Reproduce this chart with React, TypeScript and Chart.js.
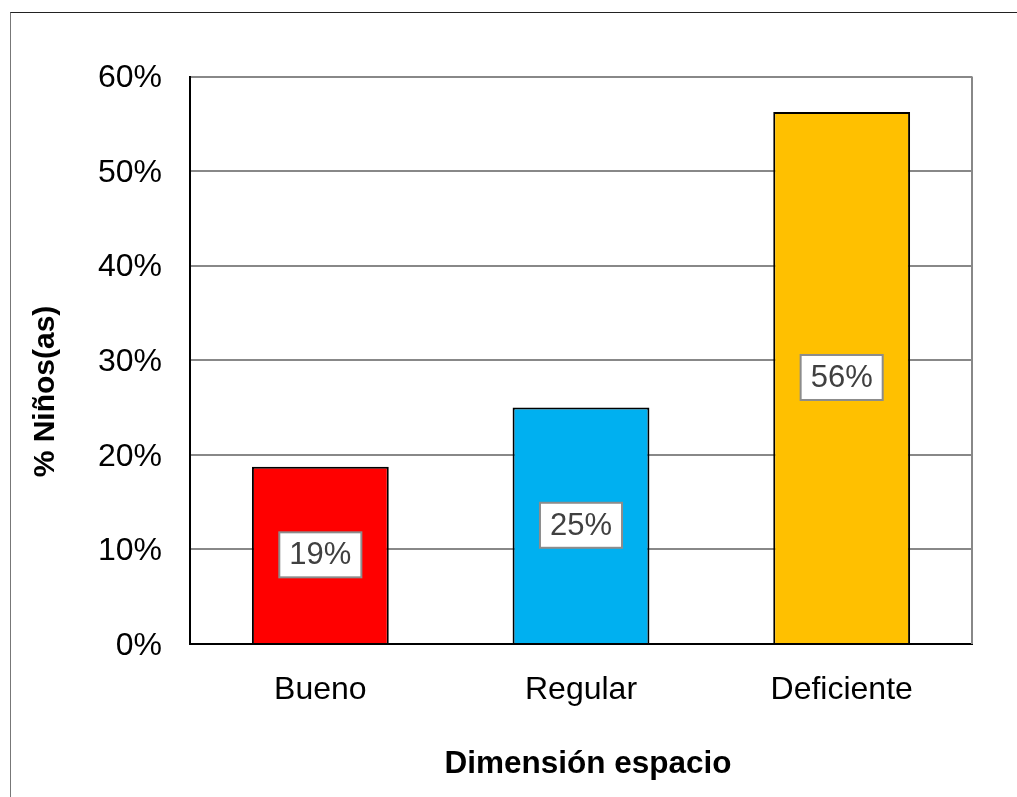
import React, { useEffect, useRef } from "react";
import { Chart, registerables } from "chart.js";

Chart.register(...registerables);

const categories: string[] = ["Bueno", "Regular", "Deficiente"];
const values: number[] = [18.75, 25, 56.25];
const barColors: string[] = ["#FF0000", "#00B0F0", "#FFC000"];
const yTicksMax = 60;
const yTicksStep = 10;
const xTitle = "Dimensión espacio";
const yTitle = "% Niños(as)";

const FONT = "'Liberation Sans', Arial, sans-serif";

const frameAndLabels = {
  id: "frameAndLabels",
  beforeDatasetsDraw(chart: any) {
    const { ctx, chartArea } = chart;
    ctx.save();
    ctx.strokeStyle = "#888888";
    ctx.lineWidth = 2;
    ctx.beginPath();
    ctx.moveTo(chartArea.right, chartArea.top);
    ctx.lineTo(chartArea.right, chartArea.bottom);
    ctx.stroke();
    ctx.restore();
  },
  afterDatasetsDraw(chart: any) {
    const { ctx } = chart;
    const meta = chart.getDatasetMeta(0);
    const data = chart.data.datasets[0].data as number[];
    ctx.save();
    ctx.font = `31px ${FONT}`;
    meta.data.forEach((el: any, i: number) => {
      const txt = Math.round(data[i]) + "%";
      const w = ctx.measureText(txt).width;
      const bw = w + 20;
      const bh = 45;
      const cx = el.x;
      const cy = (el.y + el.base) / 2;
      ctx.fillStyle = "#FFFFFF";
      ctx.fillRect(cx - bw / 2, cy - bh / 2, bw, bh);
      ctx.strokeStyle = "#8C8C8C";
      ctx.lineWidth = 2;
      ctx.strokeRect(cx - bw / 2, cy - bh / 2, bw, bh);
      ctx.fillStyle = "#404040";
      ctx.textAlign = "center";
      ctx.textBaseline = "middle";
      ctx.fillText(txt, cx, cy + 1);
    });
    ctx.restore();
  },
  afterDraw(chart: any) {
    const { ctx } = chart;
    ctx.save();
    ctx.fillStyle = "#000000";
    ctx.font = `bold 31.5px ${FONT}`;
    ctx.textAlign = "center";
    ctx.textBaseline = "alphabetic";
    ctx.fillText(xTitle, 588, 772.5);
    ctx.translate(53.5, 391.5);
    ctx.rotate(-Math.PI / 2);
    ctx.font = `bold 30px ${FONT}`;
    ctx.fillText(yTitle, 0, 0);
    ctx.restore();
  },
};

export default function App() {
  const ref = useRef<HTMLCanvasElement | null>(null);

  useEffect(() => {
    if (!ref.current) return;
    const chart = new Chart(ref.current, {
      type: "bar",
      data: {
        labels: categories,
        datasets: [
          {
            data: values,
            backgroundColor: barColors,
            borderColor: "#000000",
            borderWidth: 2,
            barPercentage: 0.525,
            categoryPercentage: 1,
          },
        ],
      },
      options: {
        responsive: false,
        animation: false,
        devicePixelRatio: 1,
        layout: { padding: { top: 76.5, right: 45, left: 0, bottom: 0 } },
        plugins: {
          legend: { display: false },
          tooltip: { enabled: false },
        },
        scales: {
          x: {
            grid: { display: false },
            border: { display: true, color: "#000000", width: 2 },
            ticks: {
              color: "#000000",
              font: { family: FONT, size: 32 },
              padding: 19,
            },
            title: { display: false, text: xTitle },
            afterFit: (scale: any) => {
              scale.height = 153;
            },
          },
          y: {
            min: 0,
            max: yTicksMax,
            grid: { color: "#888888", lineWidth: 2, drawTicks: false },
            border: { display: true, color: "#000000", width: 2 },
            ticks: {
              stepSize: yTicksStep,
              color: "#000000",
              font: { family: FONT, size: 32 },
              padding: 28,
              labelOffset: 2,
              callback: (v: any) => v + "%",
            },
            title: { display: false, text: yTitle },
            afterFit: (scale: any) => {
              scale.width = 190;
            },
          },
        },
      },
      plugins: [frameAndLabels],
    });
    return () => chart.destroy();
  }, []);

  return (
    <div
      style={{
        position: "fixed",
        left: 0,
        top: 0,
        width: 1017,
        height: 797,
        overflow: "hidden",
        background: "#FFFFFF",
      }}
    >
      <div
        style={{
          position: "absolute",
          left: 10,
          top: 12,
          width: 1200,
          height: 1000,
          borderTop: "1px solid #222222",
          borderLeft: "1px solid #777777",
        }}
      />
      <canvas
        ref={ref}
        width={1017}
        height={797}
        style={{ position: "absolute", left: 0, top: 0, width: 1017, height: 797 }}
      />
    </div>
  );
}
